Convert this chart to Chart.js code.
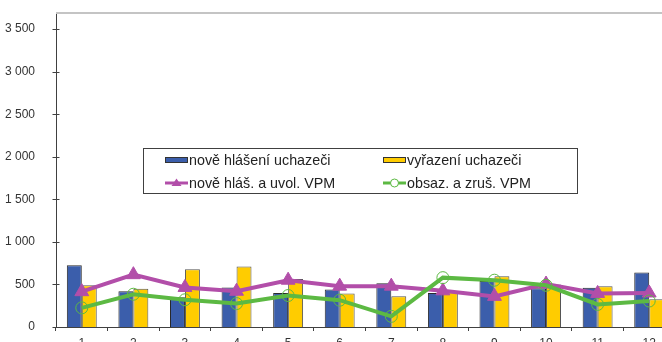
<!DOCTYPE html>
<html><head><meta charset="utf-8">
<script src="https://cdn.jsdelivr.net/npm/chart.js@4.4.0/dist/chart.umd.min.js"></script>
<style>
html,body{margin:0;padding:0;background:#fff;overflow:hidden}
#wrap{width:662px;height:342px;overflow:hidden;position:relative}
#c{position:absolute;left:0;top:0}
</style></head><body>
<div id="wrap"><canvas id="c" width="690" height="360"></canvas></div>
<script>
const categories = ['1','2','3','4','5','6','7','8','9','10','11','12'];
const noveHlaseniUchazeci = [725, 420, 350, 465, 400, 440, 515, 400, 540, 455, 460, 640];
const vyrazeniUchazeci = [490, 450, 680, 710, 565, 395, 360, 415, 595, 500, 480, 325];
const noveHlasUvolVPM = [415, 615, 465, 420, 550, 480, 480, 425, 360, 505, 395, 400];
const obsazZrusVPM = [225, 385, 320, 275, 370, 315, 125, 580, 550, 490, 265, 305];
const yTicks = [0, 500, 1000, 1500, 2000, 2500, 3000, 3500];
const seriesLabels = ['nově hlášení uchazeči', 'vyřazení uchazeči', 'nově hláš. a uvol. VPM', 'obsaz. a zruš. VPM'];

const BLUE = '#3b5eab', YELLOW = '#ffcc00', MAGENTA = '#b24ea9', GREEN = '#5cb943', AXIS = '#404040';
const FONT = '"Liberation Sans", Arial, sans-serif';

function fmt(v){ return String(v).replace(/\B(?=(\d{3})+(?!\d))/g, ' '); }

const decor = {
  id: 'decor',
  afterDraw(chart){
    const ctx = chart.ctx, a = chart.chartArea, y = chart.scales.y;
    ctx.save();
    ctx.strokeStyle = '#c4c4c4'; ctx.lineWidth = 2;
    ctx.beginPath(); ctx.moveTo(a.left, a.top); ctx.lineTo(chart.width, a.top); ctx.stroke();
    ctx.strokeStyle = AXIS; ctx.lineWidth = 1;
    yTicks.forEach(v => {
      const py = Math.round(y.getPixelForValue(v)) + 0.5;
      ctx.beginPath(); ctx.moveTo(a.left - 3.5, py); ctx.lineTo(a.left + 3.5, py); ctx.stroke();
    });
    const L = 143.5, T = 148.5, R = 577.5, B = 193.5;
    ctx.fillStyle = '#fff'; ctx.fillRect(L, T, R - L, B - T);
    ctx.strokeStyle = '#404040'; ctx.lineWidth = 1; ctx.strokeRect(L, T, R - L, B - T);
    ctx.font = '14.3px ' + FONT; ctx.textBaseline = 'middle'; ctx.fillStyle = '#222';
    const ds = chart.data.datasets;
    const cols = [165, 383], rows = [160, 183];
    const pos = [[0,0],[1,0],[0,1],[1,1]];
    ds.forEach((d, i) => {
      const x0 = cols[pos[i][0]], yy = rows[pos[i][1]];
      if (d.type === 'line') {
        ctx.strokeStyle = d.borderColor; ctx.lineWidth = 3;
        ctx.beginPath(); ctx.moveTo(x0, yy); ctx.lineTo(x0 + 23, yy); ctx.stroke();
        const cx = x0 + 11.5;
        if (d.pointStyle === 'triangle') {
          ctx.fillStyle = d.borderColor;
          ctx.beginPath(); ctx.moveTo(cx, yy - 4.5); ctx.lineTo(cx + 5, yy + 3); ctx.lineTo(cx - 5, yy + 3); ctx.closePath(); ctx.fill();
        } else {
          ctx.fillStyle = '#fff'; ctx.strokeStyle = d.borderColor; ctx.lineWidth = 1;
          ctx.beginPath(); ctx.arc(cx, yy, 4, 0, Math.PI * 2); ctx.fill(); ctx.stroke();
        }
      } else {
        ctx.fillStyle = d.backgroundColor; ctx.fillRect(x0, yy - 2.5, 23, 5);
        ctx.strokeStyle = '#333'; ctx.lineWidth = 1; ctx.strokeRect(x0 + 0.5, yy - 2.5, 22, 5);
      }
      ctx.fillStyle = '#222';
      ctx.fillText(d.label, x0 + 24, yy + 1);
    });
    ctx.restore();
  }
};

new Chart(document.getElementById('c'), {
  type: 'bar',
  data: {
    labels: categories,
    datasets: [
      { type: 'bar', label: seriesLabels[0], data: noveHlaseniUchazeci, backgroundColor: BLUE, borderColor: '#2a2a2a', borderWidth: 1, order: 3, categoryPercentage: 0.58, barPercentage: 1.0 },
      { type: 'bar', label: seriesLabels[1], data: vyrazeniUchazeci, backgroundColor: YELLOW, borderColor: '#555', borderWidth: 1, order: 4, categoryPercentage: 0.58, barPercentage: 1.0 },
      { type: 'line', label: seriesLabels[2], data: noveHlasUvolVPM, borderColor: MAGENTA, backgroundColor: MAGENTA, borderWidth: 4, pointStyle: 'triangle', pointRadius: 8, pointBackgroundColor: MAGENTA, pointBorderColor: MAGENTA, pointBorderWidth: 1, tension: 0, order: 2 },
      { type: 'line', label: seriesLabels[3], data: obsazZrusVPM, borderColor: GREEN, backgroundColor: GREEN, borderWidth: 4, pointStyle: 'circle', pointRadius: 6, pointBackgroundColor: 'rgba(0,0,0,0)', pointBorderColor: GREEN, pointBorderWidth: 1, tension: 0, order: 1 }
    ]
  },
  options: {
    responsive: false,
    animation: false,
    layout: { padding: { top: 13, right: 15, left: 0, bottom: 0 } },
    plugins: { legend: { display: false }, tooltip: { enabled: false } },
    scales: {
      x: {
        grid: { display: true, drawOnChartArea: false, drawTicks: true, tickLength: 4, color: AXIS, offset: true },
        border: { display: true, color: AXIS, width: 1 },
        ticks: { color: '#333', font: { family: FONT, size: 12 }, padding: 5, maxRotation: 0 },
        afterFit(s){ s.height = 33; s.paddingLeft = 0; s.paddingRight = 0; }
      },
      y: {
        min: 0, max: 3690,
        grid: { display: false },
        border: { display: true, color: AXIS, width: 1 },
        ticks: { color: '#333', font: { family: FONT, size: 12 }, padding: 13, callback: v => fmt(v) },
        afterBuildTicks(s){ s.ticks = yTicks.map(v => ({ value: v })); },
        afterFit(s){ s.width = 56; s.paddingTop = 0; s.paddingBottom = 0; }
      }
    }
  },
  plugins: [decor]
});
</script>
</body></html>
